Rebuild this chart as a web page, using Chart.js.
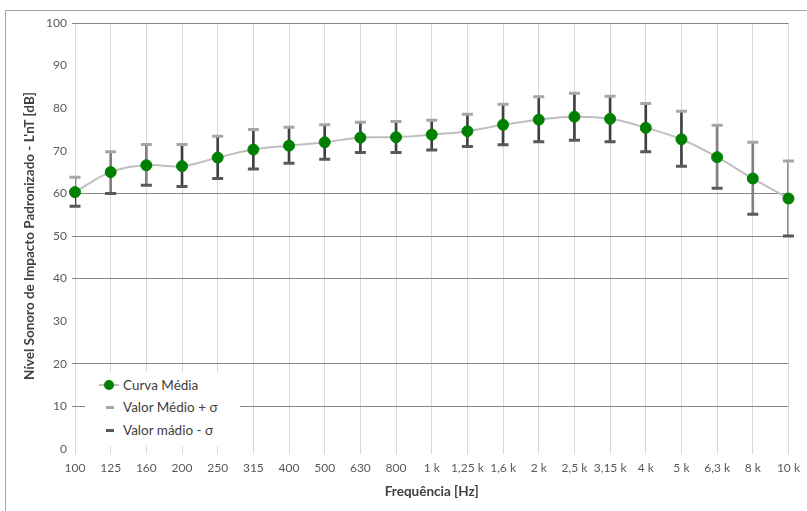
<!DOCTYPE html>
<html lang="pt">
<head>
<meta charset="utf-8">
<script src="https://cdn.jsdelivr.net/npm/chart.js@4"></script>
<style>
  html, body { margin: 0; padding: 0; overflow: hidden; background: #fff; }
  #wrap { position: relative; width: 807px; height: 511px; }
  #frame { position: absolute; left: 5px; top: 10px; width: 840px; height: 540px;
           border: 1px solid #a6a6a6; pointer-events: none; }
  #legenda { position: absolute; left: 85px; top: 372px; width: 155px; height: 74px;
             background: #fff; font: 13.5px Lato, sans-serif; color: #404040; }
  #legenda .item { position: absolute; left: 0; height: 16px; line-height: 16px; white-space: nowrap; }
  #legenda .txt { position: absolute; left: 38px; top: 0; }
  #legenda .traco { position: absolute; top: 7px; height: 2px; }
  #legenda .ponto { position: absolute; top: 3px; width: 10px; height: 10px; border-radius: 50%; background: #008000; }
</style>
</head>
<body>
<div id="wrap">
  <canvas id="grafico"></canvas>
  <div id="legenda">
    <div class="item" style="top:5px">
      <span class="traco" style="left:14px;width:20px;background:#bfbfbf"></span>
      <span class="ponto" style="left:19px"></span>
      <span class="txt">Curva Média</span>
    </div>
    <div class="item" style="top:27px">
      <span class="traco" style="left:21px;width:8px;height:3px;background:#a6a6a6"></span>
      <span class="txt">Valor Médio + σ</span>
    </div>
    <div class="item" style="top:50px">
      <span class="traco" style="left:21px;width:8px;height:3px;background:#595959"></span>
      <span class="txt">Valor mádio - σ</span>
    </div>
  </div>
  <div id="frame"></div>
</div>

<script>
// ── Données ──────────────────────────────────────────────
const frequencias = ['100', '125', '160', '200', '250', '315', '400', '500', '630', '800',
  '1 k', '1,25 k', '1,6 k', '2 k', '2,5 k', '3,15 k', '4 k', '5 k', '6,3 k', '8 k', '10 k'];

const curvaMedia = [60.3, 65.0, 66.6, 66.4, 68.4, 70.3, 71.2, 72.0, 73.1, 73.2,
  73.8, 74.6, 76.1, 77.3, 78.0, 77.5, 75.4, 72.7, 68.5, 63.5, 58.8];

const valorMaisSigma = [63.8, 69.8, 71.5, 71.5, 73.4, 75.0, 75.5, 76.1, 76.7, 76.9,
  77.2, 78.6, 80.9, 82.7, 83.5, 82.8, 81.1, 79.3, 76.0, 72.0, 67.6];

const valorMenosSigma = [57.0, 60.0, 61.9, 61.6, 63.5, 65.7, 67.1, 68.0, 69.6, 69.6,
  70.2, 71.0, 71.4, 72.1, 72.5, 72.1, 69.8, 66.4, 61.2, 55.1, 50.0];

// graduations de l'axe Y, et celles qui ont une ligne horizontale
const yTicks = [0, 10, 20, 30, 40, 50, 60, 70, 80, 90, 100];
const yLinhas = [10, 20, 40, 50, 60, 100];

// ── Style ────────────────────────────────────────────────
const FONTE = 'Lato, "Open Sans", sans-serif';
const CINZA_TEXTO = '#595959';
// barres d'erreur plus claires sur certains points (comme sur l'original)
const hastesClaras = [1, 2, 18, 19, 20];
const corHaste = i => hastesClaras.includes(i) ? '#808080' : '#404040';

// barres flottantes : moyenne -> +σ et -σ -> moyenne
const hasteSuperior = curvaMedia.map((v, i) => [v, valorMaisSigma[i]]);
const hasteInferior = curvaMedia.map((v, i) => [valorMenosSigma[i], v]);

const ctx = document.getElementById('grafico');

new Chart(ctx, {
  type: 'line',
  data: {
    labels: frequencias,
    datasets: [
      {
        label: 'Curva Média',
        data: curvaMedia,
        borderColor: '#bfbfbf',
        borderWidth: 2,
        tension: 0.4,
        pointRadius: 5.5,
        pointBackgroundColor: '#008000',
        pointBorderColor: '#008000',
        pointBorderWidth: 1,
        order: 0
      },
      {
        label: 'Valor Médio + σ',
        data: valorMaisSigma,
        showLine: false,
        pointStyle: 'line',
        pointRadius: 5.5,
        borderColor: '#a6a6a6',
        pointBorderWidth: 3,
        order: 1
      },
      {
        label: 'Valor mádio - σ',
        data: valorMenosSigma,
        showLine: false,
        pointStyle: 'line',
        pointRadius: 5.5,
        borderColor: '#595959',
        pointBorderWidth: 3,
        order: 1
      },
      {
        type: 'bar',
        label: 'haste +',
        data: hasteSuperior,
        backgroundColor: hasteSuperior.map((_, i) => i === 0 ? '#808080' : corHaste(i)),
        barThickness: 2,
        grouped: false,
        order: 2
      },
      {
        type: 'bar',
        label: 'haste -',
        data: hasteInferior,
        backgroundColor: hasteInferior.map((_, i) => corHaste(i)),
        barThickness: 2,
        grouped: false,
        order: 2
      }
    ]
  },
  options: {
    responsive: true,
    maintainAspectRatio: false,
    animation: false,
    layout: { padding: { left: 0, top: 23, right: 14, bottom: 0 } },
    plugins: {
      legend: { display: false },
      tooltip: { enabled: false }
    },
    scales: {
      x: {
        offset: false,
        border: { display: false },
        grid: {
          offset: false,
          color: '#d9d9d9',
          lineWidth: 1,
          tickLength: 5,
          drawTicks: true
        },
        ticks: {
          color: CINZA_TEXTO,
          font: { family: FONTE, size: 12 },
          padding: 7,
          maxRotation: 0,
          autoSkip: false
        },
        title: {
          display: true,
          text: 'Frequência [Hz]',
          color: '#404040',
          font: { family: FONTE, size: 13.5, weight: 'bold' },
          padding: { top: 0, bottom: 11 }
        },
        afterFit: s => { s.height = 62; }
      },
      y: {
        min: 0,
        max: 100,
        border: { display: false },
        afterBuildTicks: s => { s.ticks = yTicks.map(v => ({ value: v })); },
        grid: {
          color: c => yLinhas.includes(c.tick.value) ? '#868686' : 'rgba(0,0,0,0)',
          lineWidth: 1,
          tickLength: 3
        },
        ticks: {
          color: CINZA_TEXTO,
          font: { family: FONTE, size: 12 },
          padding: 5
        },
        title: {
          display: true,
          text: "Nível Sonoro de Impacto Padronizado - L'nT [dB]",
          color: '#404040',
          font: { family: FONTE, size: 13.5, weight: 'bold' },
          padding: { top: 22, bottom: 0 }
        },
        afterFit: s => { s.width = 75; }
      }
    }
  }
});
</script>
</body>
</html>
